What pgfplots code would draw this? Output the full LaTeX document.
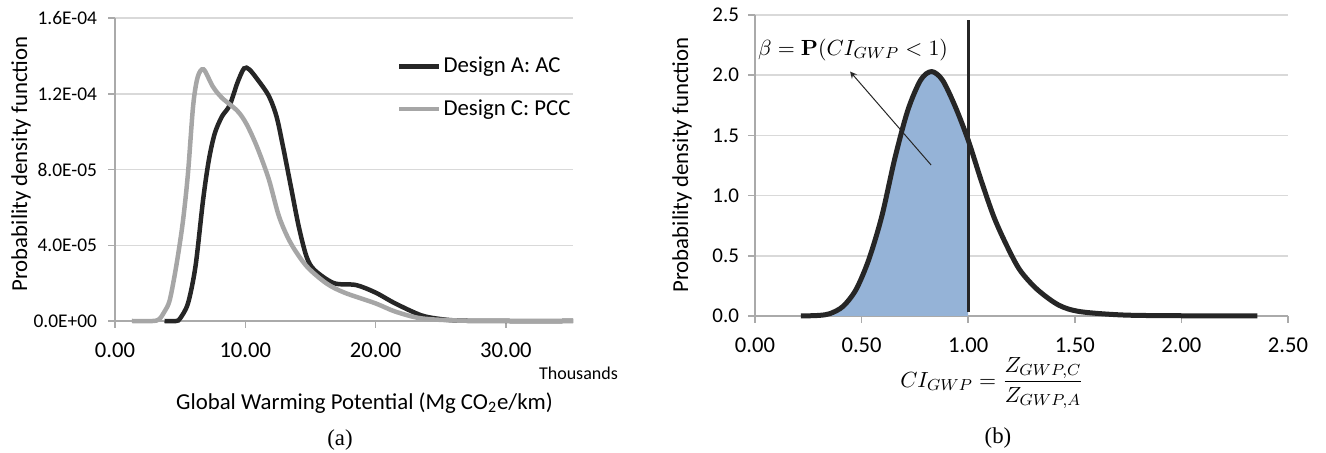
\documentclass[border=0pt]{standalone}
\usepackage[no-math]{fontspec}
\setmainfont{Carlito}
\newfontfamily\timesfont{Liberation Serif}
\usepackage{pgfplots}
\pgfplotsset{compat=1.18}
\definecolor{gridc}{RGB}{217,217,217}
\definecolor{axc}{RGB}{170,170,170}
\definecolor{darkc}{RGB}{38,38,38}
\definecolor{grayc}{RGB}{166,166,166}
\definecolor{fillc}{RGB}{149,179,215}
\pgfplotsset{
  common/.style={
    scale only axis,
    axis x line*=bottom, axis y line*=left,
    axis line style={draw=axc, line width=0.8pt, -},
    tick style={draw=axc, line width=0.8pt},
    major tick length=3.5pt, tick align=outside,
    ymajorgrids, grid style={draw=gridc, line width=0.8pt},
    scaled y ticks=false, scaled x ticks=false,
    /pgf/number format/assume math mode=true,
    xticklabel style={font=\fontsize{11.3}{13}\selectfont, yshift=-4pt},
    clip=false,
  }
}
\begin{document}
\begin{tikzpicture}
\path[use as bounding box] (0,0) rectangle (663pt,226.5pt);
% ---------------- (a)
\begin{axis}[common,
  at={(57.5pt,66pt)}, anchor=south west,
  width=229pt, height=151.35pt,
  xmin=0, xmax=35.15, ymin=0, ymax=1.6e-4,
  xtick={0,10,20,30}, xticklabels={0.00,10.00,20.00,30.00},
  ytick={0,4e-5,8e-5,1.2e-4,1.6e-4},
  yticklabels={0.0E+00,4.0E-05,8.0E-05,1.2E-04,1.6E-04},
  yticklabel style={font=\fontsize{9.7}{12}\selectfont, xshift=-2pt},
  legend image code/.code={\draw[#1] (0pt,0pt) -- (20pt,0pt);},
  legend cell align=left,
  legend style={draw=none, fill=none, at={(axis description cs:0.615,0.88)}, anchor=north west,
    font=\fontsize{11.4}{13}\selectfont, row sep=10pt, inner sep=0pt, nodes={inner sep=1pt}},
]
\addplot[darkc, line width=2.25pt, smooth, tension=0.5] coordinates {
(3.8,0) (4.7,0) (5.0,0.14e-5) (5.6,0.93e-5) (6.18,2.9e-5) (6.76,6.4e-5) (7.2,8.5e-5)
(7.65,9.9e-5) (8.2,10.8e-5) (8.8,11.4e-5) (9.4,12.6e-5) (9.9,13.35e-5) (10.3,13.3e-5) (10.9,12.8e-5)
(11.8,11.9e-5) (12.4,10.8e-5) (12.9,9.2e-5) (13.5,7.1e-5) (14.1,5.0e-5) (14.7,3.4e-5) (15.3,2.7e-5)
(16.8,2.0e-5) (18.5,1.9e-5) (20.0,1.5e-5) (21.5,0.93e-5) (23.5,0.3e-5) (25.0,0.1e-5)
(26.5,0.02e-5) (30,0) (35.15,0)};
\addlegendentry{Design A: AC}
\addplot[grayc, line width=2.25pt, smooth, tension=0.5] coordinates {
(1.3,0) (2.9,0) (3.4,0.1e-5) (3.8,0.5e-5) (4.2,1.1e-5) (4.7,2.9e-5) (5.2,5.2e-5)
(5.6,7.8e-5) (6.0,11.4e-5) (6.35,12.9e-5) (6.8,13.3e-5) (7.5,12.4e-5) (8.2,11.8e-5)
(9.4,11.1e-5) (10.1,10.4e-5) (10.9,9.2e-5) (11.8,7.5e-5) (12.6,5.5e-5) (13.5,4.1e-5)
(14.7,2.9e-5) (16.2,2.0e-5) (17.6,1.5e-5) (20,0.93e-5) (21.5,0.5e-5) (23.5,0.14e-5)
(26.5,0.02e-5) (30,0) (35.15,0)};
\addlegendentry{Design C: PCC}
\end{axis}
% ---------------- (b)
\begin{axis}[common,
  at={(377.5pt,68.5pt)}, anchor=south west,
  width=266.5pt, height=150.5pt,
  xmin=0, xmax=2.5, ymin=0, ymax=2.5,
  xtick={0,0.5,1,1.5,2,2.5}, xticklabels={0.00,0.50,1.00,1.50,2.00,2.50},
  ytick={0,0.5,1,1.5,2,2.5}, yticklabels={0.0,0.5,1.0,1.5,2.0,2.5},
  yticklabel style={font=\fontsize{10.5}{12}\selectfont, xshift=-1pt},
]
\addplot[fill=fillc, draw=none, smooth, tension=0.5] coordinates {
(0.215,0) (0.30,0.005) (0.352,0.02) (0.413,0.08) (0.474,0.22) (0.534,0.47) (0.595,0.83)
(0.656,1.31) (0.717,1.71) (0.777,1.96) (0.828,2.03) (0.879,1.96) (0.939,1.74) (1.0,1.46)} \closedcycle;
\addplot[darkc, line width=2.5pt, smooth, tension=0.5] coordinates {
(0.215,0) (0.30,0.005) (0.352,0.02) (0.413,0.08) (0.474,0.22) (0.534,0.47) (0.595,0.83)
(0.656,1.31) (0.717,1.71) (0.777,1.96) (0.828,2.03) (0.879,1.96) (0.939,1.74) (1.0,1.46)
(1.06,1.13) (1.121,0.82) (1.182,0.58) (1.243,0.38) (1.324,0.22) (1.425,0.09) (1.526,0.036)
(1.73,0.008) (2.0,0.002) (2.356,0)};
\addplot[darkc, line width=1.5pt] coordinates {(1,0.03) (1,2.46)};
\draw[-stealth, line width=0.5pt, darkc] (axis cs:0.826,1.254) -- (axis cs:0.446,2.03);
\node[fill=white, inner sep=1pt] at (axis cs:0.46,2.21) {\fontsize{11.4}{13}\selectfont$\beta = \mathbf{P}(CI_{GWP} < 1)$};
\end{axis}
% labels
\node[rotate=90, font=\fontsize{11.4}{13}\selectfont] at (10.5pt,144.5pt) {Probability density function};
\node[font=\fontsize{11.4}{13}\selectfont] at (182.25pt,25pt) {Global Warming Potential (Mg CO\textsubscript{2}e/km)};
\node[anchor=west, font=\fontsize{9}{11}\selectfont] at (266pt,40pt) {Thousands};
\node[font=\timesfont\fontsize{11.4}{13}\selectfont] at (170pt,6.5pt) {(a)};
\node[rotate=90, font=\fontsize{11.4}{13}\selectfont] at (341pt,144pt) {Probability density function};
\node[font=\fontsize{11.4}{13}\selectfont] at (496pt,35pt) {$CI_{GWP} = \displaystyle\frac{Z_{GWP,C}}{Z_{GWP,A}}$};
\node[font=\timesfont\fontsize{11.4}{13}\selectfont] at (499pt,7.5pt) {(b)};
\end{tikzpicture}
\end{document}
